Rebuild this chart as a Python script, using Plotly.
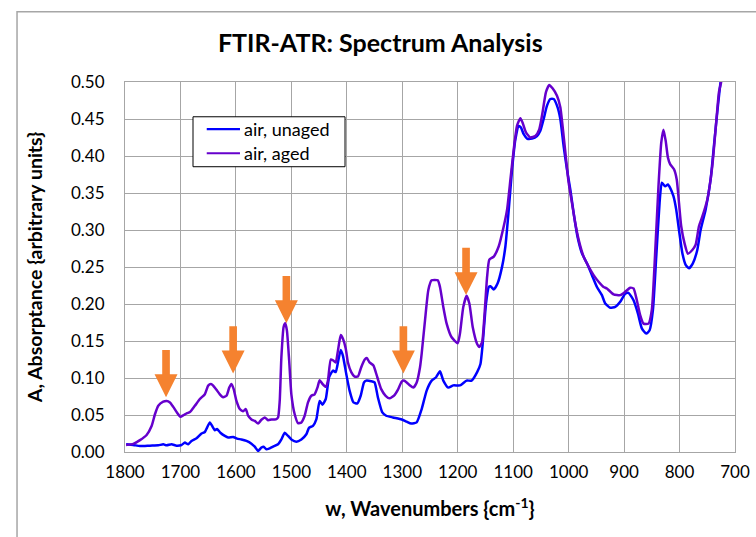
import plotly.graph_objects as go

# ---- data ----
wn_unaged = [1798, 1785, 1773, 1755, 1740, 1731, 1725, 1716, 1707, 1698, 1692, 1686, 1680, 1671, 1662, 1656,
             1652, 1647, 1642, 1638, 1634, 1628, 1620, 1614, 1605, 1598, 1590, 1581, 1572, 1566, 1560, 1554,
             1550, 1545, 1539, 1533, 1524, 1518, 1512, 1506, 1500, 1491, 1482, 1473, 1468, 1461, 1455, 1449,
             1444, 1438, 1432, 1425, 1420, 1416, 1411, 1407, 1401, 1395, 1388, 1381, 1375, 1369, 1365, 1356,
             1350, 1344, 1336, 1329, 1317, 1301, 1292, 1284, 1274, 1265, 1256, 1247, 1239, 1232, 1226, 1217,
             1208, 1196, 1184, 1175, 1165, 1159, 1155, 1149, 1144, 1141, 1135, 1128, 1120, 1114, 1108, 1102,
             1096, 1090, 1086, 1081, 1075, 1066, 1057, 1051, 1045, 1039, 1033, 1027, 1021, 1015, 1009, 1003,
             997, 991, 984, 976, 967, 958, 949, 940, 934, 925, 916, 907, 898, 892, 883, 875, 868, 860, 854,
             848, 842, 836, 832, 826, 821, 817, 811, 806, 801, 795, 789, 783, 776, 768, 762, 753, 744, 738,
             732, 726, 720]
a_unaged = [0.0104, 0.0095, 0.008, 0.0086, 0.009, 0.0104, 0.009, 0.0104, 0.0086, 0.0095, 0.0127, 0.0104, 0.015,
            0.0186, 0.025, 0.027, 0.033, 0.040, 0.034, 0.0295, 0.031, 0.026, 0.0217, 0.0195, 0.0204, 0.018,
            0.017, 0.015, 0.0113, 0.0072, 0.0014, 0.006, 0.0072, 0.0036, 0.005, 0.0072, 0.0104, 0.017, 0.026,
            0.0217, 0.017, 0.014, 0.017, 0.024, 0.033, 0.0353, 0.044, 0.069, 0.064, 0.0716, 0.101, 0.110, 0.108,
            0.121, 0.138, 0.130, 0.1055, 0.083, 0.067, 0.0657, 0.076, 0.094, 0.0965, 0.0956, 0.094, 0.074,
            0.0535, 0.049, 0.0467, 0.044, 0.041, 0.0385, 0.040, 0.058, 0.083, 0.0965, 0.101, 0.109, 0.0965,
            0.087, 0.090, 0.090, 0.0965, 0.0965, 0.108, 0.119, 0.146, 0.2007, 0.223, 0.224, 0.2197, 0.228,
            0.2505, 0.278, 0.3275, 0.382, 0.4226, 0.4406, 0.4385, 0.4294, 0.4236, 0.4236, 0.427, 0.434, 0.450,
            0.468, 0.477, 0.477, 0.468, 0.450, 0.413, 0.382, 0.3547, 0.323, 0.291, 0.2686, 0.255, 0.239, 0.223,
            0.212, 0.2007, 0.195, 0.196, 0.203, 0.214, 0.215, 0.205, 0.187, 0.167, 0.160, 0.1645, 0.192, 0.264,
            0.3366, 0.3638, 0.359, 0.3616, 0.357, 0.3457, 0.3275, 0.300, 0.269, 0.253, 0.2483, 0.255, 0.273,
            0.300, 0.3275, 0.368, 0.4136, 0.459, 0.4997, 0.522]

wn_aged = [1798, 1785, 1773, 1761, 1752, 1746, 1740, 1731, 1725, 1719, 1713, 1706, 1700, 1694, 1688, 1683,
           1674, 1665, 1656, 1650, 1645, 1641, 1635, 1629, 1623, 1617, 1612, 1608, 1604, 1599, 1593, 1587,
           1582, 1578, 1572, 1566, 1560, 1554, 1548, 1542, 1536, 1528, 1524, 1521, 1518, 1514, 1511, 1508,
           1504, 1500, 1494, 1488, 1482, 1476, 1470, 1464, 1458, 1453, 1449, 1444, 1438, 1434, 1429, 1425,
           1420, 1416, 1411, 1407, 1402, 1398, 1392, 1386, 1380, 1374, 1368, 1364, 1359, 1352, 1345, 1338,
           1330, 1323, 1314, 1308, 1301, 1297, 1292, 1286, 1280, 1274, 1268, 1265, 1259, 1253, 1247, 1236,
           1232, 1226, 1220, 1211, 1200, 1196, 1190, 1184, 1179, 1173, 1165, 1161, 1156, 1152, 1147, 1143,
           1135, 1126, 1117, 1111, 1105, 1099, 1093, 1087, 1083, 1077, 1069, 1060, 1053, 1047, 1041, 1035,
           1029, 1021, 1015, 1009, 1004, 1000, 994, 988, 982, 973, 964, 955, 946, 937, 931, 919, 907, 898,
           889, 883, 877, 871, 865, 856, 850, 844, 838, 833, 829, 825, 821, 817, 810, 805, 801, 797, 791,
           785, 777, 771, 765, 759, 750, 741, 735, 729, 725, 720]
a_aged = [0.0095, 0.011, 0.016, 0.023, 0.035, 0.051, 0.0625, 0.068, 0.069, 0.067, 0.061, 0.053, 0.0476, 0.050,
          0.0525, 0.054, 0.0625, 0.0716, 0.078, 0.0897, 0.092, 0.0897, 0.084, 0.078, 0.074, 0.076, 0.087, 0.092,
          0.085, 0.069, 0.058, 0.055, 0.058, 0.049, 0.044, 0.042, 0.0385, 0.0435, 0.0467, 0.043, 0.044, 0.044,
          0.0467, 0.069, 0.128, 0.169, 0.174, 0.164, 0.124, 0.078, 0.051, 0.039, 0.040, 0.049, 0.067, 0.076,
          0.078, 0.087, 0.097, 0.092, 0.088, 0.0965, 0.125, 0.124, 0.121, 0.137, 0.158, 0.153, 0.140, 0.121,
          0.108, 0.102, 0.102, 0.1146, 0.1246, 0.127, 0.121, 0.117, 0.101, 0.085, 0.076, 0.0725, 0.077, 0.084,
          0.095, 0.0965, 0.094, 0.0897, 0.087, 0.094, 0.1146, 0.133, 0.178, 0.219, 0.232, 0.232, 0.223, 0.196,
          0.1735, 0.155, 0.147, 0.160, 0.196, 0.211, 0.2007, 0.169, 0.146, 0.142, 0.1486, 0.1826, 0.237, 0.260,
          0.264, 0.278, 0.305, 0.3275, 0.368, 0.409, 0.441, 0.451, 0.445, 0.432, 0.425, 0.427, 0.436, 0.459,
          0.486, 0.496, 0.4915, 0.4815, 0.466, 0.427, 0.391, 0.364, 0.3366, 0.309, 0.287, 0.264, 0.2505, 0.239,
          0.230, 0.223, 0.221, 0.213, 0.212, 0.2165, 0.222, 0.221, 0.205, 0.185, 0.1735, 0.1735, 0.192, 0.269,
          0.359, 0.418, 0.4355, 0.4205, 0.398, 0.389, 0.382, 0.368, 0.3366, 0.305, 0.282, 0.268, 0.273, 0.280,
          0.305, 0.318, 0.341, 0.386, 0.436, 0.486, 0.500, 0.53]

series_names = ["air, unaged", "air, aged"]
series_colors = ["#0000FF", "#6600CC"]

# marked peaks (arrow tips)
arrow_wn = [1726, 1605, 1509, 1298, 1185]
arrow_tip = [0.074, 0.106, 0.174, 0.106, 0.212]

x_ticks = [1800, 1700, 1600, 1500, 1400, 1300, 1200, 1100, 1000, 900, 800, 700]

FONT = "Lato"
GRID = "#A6A6A6"
ORANGE = "#F5822F"

fig = go.Figure()
for xs, ys, nm, col in zip([wn_unaged, wn_aged], [a_unaged, a_aged], series_names, series_colors):
    fig.add_trace(go.Scatter(x=xs, y=ys, mode="lines", name=nm, showlegend=False,
                             line=dict(color=col, width=2.5, shape="spline", smoothing=0.5)))

# block arrows pointing down to the peaks
shaft_hw, head_hw = 6.9, 20.7      # half widths (cm-1)
head_h, shaft_h = 0.031, 0.033     # heights (absorbance units)
for xw, yt in zip(arrow_wn, arrow_tip):
    yh = yt + head_h
    ys = yh + shaft_h
    path = (f"M {xw} {yt} L {xw - head_hw} {yh} L {xw - shaft_hw} {yh} L {xw - shaft_hw} {ys} "
            f"L {xw + shaft_hw} {ys} L {xw + shaft_hw} {yh} L {xw + head_hw} {yh} Z")
    fig.add_shape(type="path", path=path, xref="x", yref="y",
                  fillcolor=ORANGE, line=dict(width=0), layer="above")

# legend box (drawn manually to match the compact layout)
fig.add_shape(type="rect", xref="paper", yref="paper", x0=0.1115, x1=0.3607, y0=0.771, y1=0.906,
              line=dict(color="black", width=1), fillcolor="white", layer="above")
row_y = [0.8725, 0.8075]
for ry, nm, col in zip(row_y, series_names, series_colors):
    fig.add_shape(type="line", xref="paper", yref="paper", x0=0.134, x1=0.1885, y0=ry, y1=ry,
                  line=dict(color=col, width=2.2), layer="above")
    fig.add_annotation(text=nm, xref="paper", yref="paper", x=0.191, y=ry, xanchor="left",
                       yanchor="middle", showarrow=False, font=dict(family=FONT, size=18, color="black"))

# outer chart-area border (top & left visible)
fig.add_shape(type="rect", xref="paper", yref="paper", x0=-0.177, x1=1.2, y0=-0.4, y1=1.19,
              line=dict(color="#A6A6A6", width=1.5), fillcolor="rgba(0,0,0,0)", layer="below")

fig.update_layout(
    width=756, height=537,
    margin=dict(l=125, r=21, t=82, b=85),
    paper_bgcolor="white", plot_bgcolor="white",
    font=dict(family=FONT, size=17, color="black"),
    title=dict(text="<b>FTIR-ATR: Spectrum Analysis</b>", x=0.503, xanchor="center",
               y=0.92, yanchor="middle", font=dict(family=FONT, size=25, color="black")),
    showlegend=False,
)
fig.update_xaxes(range=[1800, 700], tickvals=x_ticks, showgrid=True, gridcolor=GRID, gridwidth=1,
                 showline=True, linecolor=GRID, linewidth=1, mirror=True, zeroline=False,
                 automargin=False, ticks="", ticklabelstandoff=5, tickfont=dict(family=FONT, size=17),
                 title=dict(text="<b>w, Wavenumbers {cm<sup>-1</sup>}</b>", standoff=20,
                            font=dict(family=FONT, size=20)))
fig.update_yaxes(range=[0, 0.5], dtick=0.05, tickformat=".2f", showgrid=True, gridcolor=GRID, gridwidth=1,
                 showline=True, linecolor=GRID, linewidth=1, mirror=True, zeroline=False,
                 automargin=False, ticks="", ticklabelstandoff=16, tickfont=dict(family=FONT, size=17),
                 title=dict(text="<b>A, Absorptance {arbitrary units}</b>", standoff=23,
                            font=dict(family=FONT, size=19.5)))

fig.write_html("out.html", config={"displayModeBar": False},
               post_script="document.body.style.margin='0';")
